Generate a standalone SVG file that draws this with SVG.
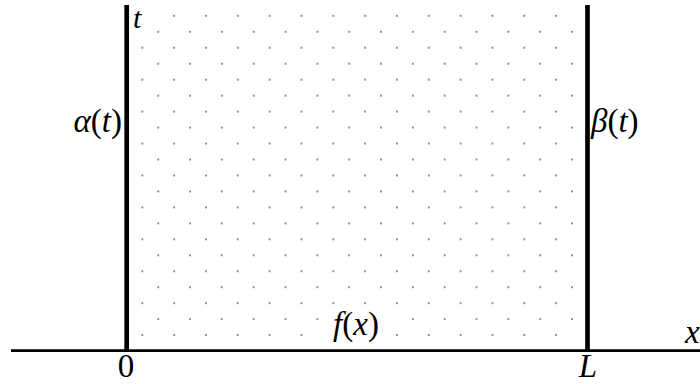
<svg xmlns="http://www.w3.org/2000/svg" width="700" height="384" viewBox="0 0 700 384">
  <style>
    text { font-family: "Liberation Serif", "Times New Roman", serif; font-size: 33px; fill: #000; }
    .it { font-style: italic; }
    .bar { stroke: #000; stroke-width: 4.7; fill: none; }
    .axis { stroke: #000; stroke-width: 2.7; fill: none; }
  </style>
  <defs>
    <pattern id="dots" patternUnits="userSpaceOnUse" x="134.34" y="7.82" width="31.83" height="31.93">
      <rect x="7.26" y="7.28" width="1.4" height="1.4" fill="#222"/>
      <rect x="23.17" y="23.25" width="1.4" height="1.4" fill="#222"/>
    </pattern>
  </defs>
  <rect width="700" height="384" fill="#fff"/>
  <g id="region">
    <rect x="134.34" y="7.82" width="445.62" height="335.3" fill="url(#dots)"/>
  </g>
  <g id="connectors">
    <line class="axis" x1="11" y1="350.7" x2="700" y2="350.7"/>
    <line class="bar" x1="126.7" y1="5" x2="126.7" y2="350"/>
    <line class="bar" x1="587.5" y1="5" x2="587.5" y2="350"/>
  </g>
  <g id="label-t">
    <rect x="131" y="4" width="15" height="24" fill="#fff"/>
    <text class="it" x="133" y="28" style="font-size:30px">t</text>
  </g>
  <g id="label-alpha">
    <text x="122" y="132" text-anchor="end"><tspan class="it">α</tspan>(<tspan class="it">t</tspan>)</text>
  </g>
  <g id="label-beta">
    <text x="591" y="132"><tspan class="it">β</tspan>(<tspan class="it">t</tspan>)</text>
  </g>
  <g id="label-f">
    <rect x="324" y="309" width="64" height="35" fill="#fff"/>
    <text x="356" y="335" text-anchor="middle"><tspan class="it">f</tspan>(<tspan class="it">x</tspan>)</text>
  </g>
  <g id="label-0">
    <text x="126" y="377" text-anchor="middle">0</text>
  </g>
  <g id="label-L">
    <text class="it" x="588" y="377" text-anchor="middle">L</text>
  </g>
  <g id="label-x">
    <text class="it" x="685" y="343">x</text>
  </g>
</svg>
